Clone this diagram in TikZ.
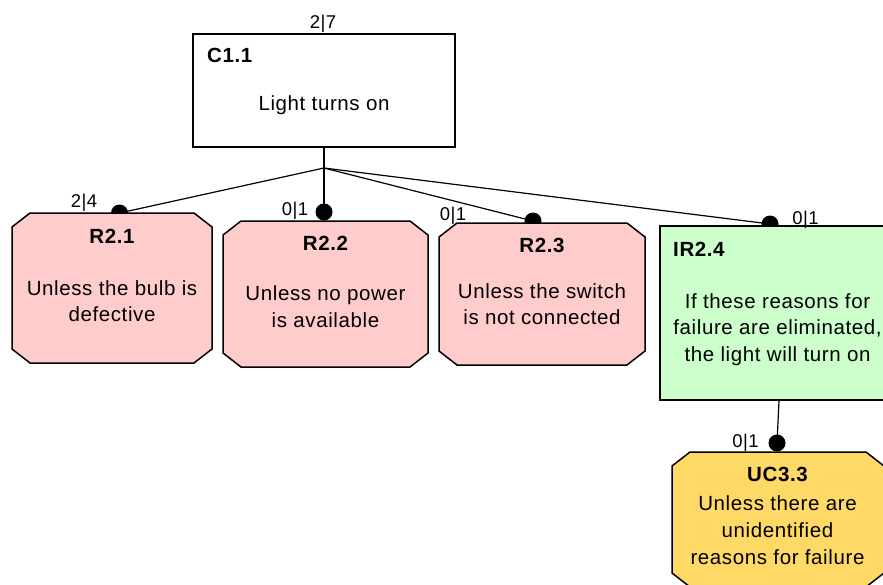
\documentclass[tikz,border=0pt]{standalone}
\usepackage{fontspec}
\setmainfont{Liberation Sans}[LetterSpace=3]
\definecolor{pinkc}{RGB}{255,204,204}
\definecolor{greenc}{RGB}{204,255,204}
\definecolor{yellowc}{RGB}{255,217,102}
\newcommand\octpath[4]{(#1+18,#2) -- (#3-18,#2) -- (#3,#2+14) -- (#3,#4-14) -- (#3-18,#4) -- (#1+18,#4) -- (#1,#4-14) -- (#1,#2+14) -- cycle}
\begin{document}
\begin{tikzpicture}[x=1pt,y=-1pt,
  box/.style={draw=black, line width=1.5pt},
  conn/.style={draw=black, line width=1.2pt},
  dot/.style={circle, fill=black, inner sep=0pt, minimum size=17pt},
  ttl/.style={font=\fontsize{20.5}{27}\selectfont\bfseries, anchor=base, inner sep=0pt},
  txt/.style={font=\fontsize{20.5}{26.7}\selectfont, align=center, anchor=base, inner sep=0pt},
  lbl/.style={font=\fontsize{18.5}{22}\selectfont, anchor=base, inner sep=0pt}]
\useasboundingbox (0,0) rectangle (883,584);
\clip (0,0) rectangle (883,584);
\fill[white] (0,0) rectangle (883,584);

% top claim
\node[box, fill=white, minimum width=262pt, minimum height=113pt, inner sep=0pt] (c11) at (324,90.5) {};
\node[ttl, anchor=base west] (c11t) at (207,62.5) {C1.1};
\node[txt] (c11x) at (324,110) {Light turns on};
\node[lbl] (c11l) at (323,28) {2|7};

% junction and dots
\coordinate (j) at (324,168);
\node[dot] (d1) at (119.5,213) {};
\node[dot] (d2) at (324,212) {};
\node[dot] (d3) at (533,221) {};
\node[dot] (d4) at (770,224) {};
\draw[conn] (c11.south) -- (j);
\draw[conn] (j) -- (d1.center);
\draw[conn] (j) -- (d2.center);
\draw[conn] (j) -- (d3.center);
\draw[conn] (j) -- (d4.center);

% R2.1 (multi-line text: base anchor = baseline of last line)
\draw[box, fill=pinkc] \octpath{12}{213}{212}{363};
\node[ttl] (r21t) at (112,243) {R2.1};
\node[txt] (r21x) at (112,321.7) {Unless the bulb is\\defective};
\node[lbl] (r21l) at (84,207) {2|4};

% R2.2
\draw[box, fill=pinkc] \octpath{223}{221}{428}{367};
\node[ttl] (r22t) at (325.5,250) {R2.2};
\node[txt] (r22x) at (325.5,327.4) {Unless no power\\is available};
\node[lbl] (r22l) at (295,215) {0|1};

% R2.3
\draw[box, fill=pinkc] \octpath{439}{223}{645}{365};
\node[ttl] (r23t) at (542,252) {R2.3};
\node[txt] (r23x) at (542,324.7) {Unless the switch\\is not connected};
\node[lbl] (r23l) at (453,220) {0|1};

% IR2.4
\node[box, fill=greenc, minimum width=238pt, minimum height=174pt, inner sep=0pt] (ir24) at (779,313) {};
\node[ttl, anchor=base west] (ir24t) at (673,256) {IR2.4};
\node[txt] (ir24x) at (777.5,361.4) {If these reasons for\\failure are eliminated,\\the light will turn on};
\node[lbl] (ir24l) at (805.5,224) {0|1};

% UC3.3
\node[dot] (d5) at (777,443) {};
\draw[conn] (ir24.south) -- (d5.center);
\draw[box, fill=yellowc] \octpath{672}{452}{884}{587};
\node[ttl] (uc33t) at (777.5,481) {UC3.3};
\node[txt] (uc33x) at (777.5,564) {Unless there are\\unidentified\\reasons for failure};
\node[lbl] (uc33l) at (745.5,447) {0|1};
\end{tikzpicture}
\end{document}
